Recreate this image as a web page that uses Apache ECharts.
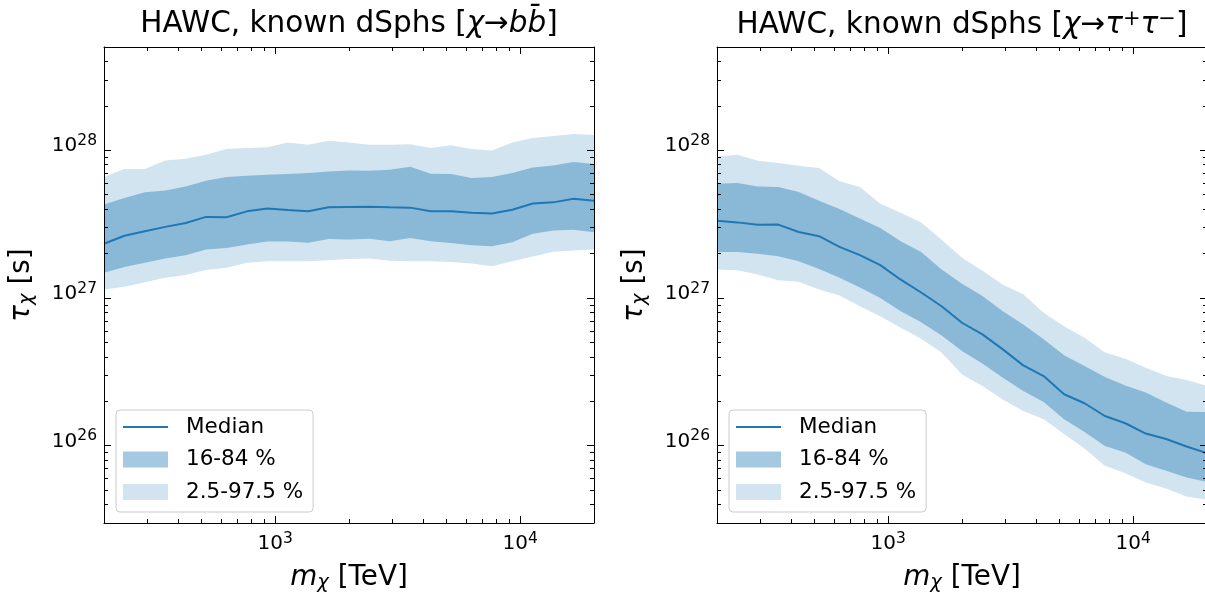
<!DOCTYPE html>
<html>
<head>
<meta charset="utf-8">
<script src="https://cdn.jsdelivr.net/npm/echarts@6.0.0/dist/echarts.min.js"></script>
<style>
html,body{margin:0;padding:0;background:#ffffff;}
#chart{width:1205px;height:593px;}
</style>
</head>
<body>
<div id="chart"></div>
<script>
// ---------------- data ----------------
const masses = [200, 242.3, 293.6, 355.7, 430.9, 522.1, 632.5, 766.3, 928.4, 1124.8, 1362.7, 1651.0, 2000,
  2423.1, 2935.6, 3556.6, 4308.9, 5220.4, 6324.6, 7662.5, 9283.2, 11246.8, 13625.8, 16508.1, 20000];

// chi -> b bbar
const bbMedian = [2.33e27, 2.64e27, 2.83e27, 3.03e27, 3.22e27, 3.54e27, 3.52e27, 3.86e27, 4.04e27, 3.94e27, 3.86e27, 4.11e27, 4.13e27,
  4.15e27, 4.11e27, 4.09e27, 3.86e27, 3.86e27, 3.78e27, 3.73e27, 3.96e27, 4.36e27, 4.44e27, 4.70e27, 4.56e27];
const bbLo68 = [1.48e27, 1.62e27, 1.73e27, 1.85e27, 1.95e27, 2.13e27, 2.18e27, 2.30e27, 2.41e27, 2.41e27, 2.37e27, 2.51e27, 2.49e27,
  2.52e27, 2.42e27, 2.55e27, 2.42e27, 2.36e27, 2.28e27, 2.24e27, 2.38e27, 2.72e27, 2.86e27, 2.90e27, 2.79e27];
const bbHi68 = [4.29e27, 4.75e27, 5.19e27, 5.35e27, 5.69e27, 6.22e27, 6.59e27, 6.73e27, 6.83e27, 6.90e27, 7.01e27, 7.19e27, 7.30e27,
  7.27e27, 7.38e27, 7.74e27, 6.93e27, 6.90e27, 6.49e27, 6.59e27, 7.01e27, 7.65e27, 7.89e27, 8.32e27, 8.07e27];
const bbLo95 = [1.14e27, 1.19e27, 1.28e27, 1.37e27, 1.43e27, 1.55e27, 1.60e27, 1.73e27, 1.77e27, 1.77e27, 1.77e27, 1.80e27, 1.84e27,
  1.85e27, 1.79e27, 1.77e27, 1.77e27, 1.75e27, 1.71e27, 1.64e27, 1.77e27, 1.91e27, 2.06e27, 2.10e27, 2.13e27];
const bbHi95 = [6.59e27, 7.47e27, 7.47e27, 8.53e27, 8.77e27, 9.33e27, 1.02e28, 1.035e28, 1.05e28, 1.13e28, 1.09e28, 1.16e28, 1.13e28,
  1.09e28, 1.09e28, 1.10e28, 1.035e28, 1.08e28, 1.02e28, 9.97e27, 1.13e28, 1.21e28, 1.25e28, 1.29e28, 1.27e28];

// chi -> tau+ tau-
const ttMedian = [3.34e27, 3.25e27, 3.13e27, 3.14e27, 2.80e27, 2.62e27, 2.22e27, 1.95e27, 1.67e27, 1.33e27, 1.09e27, 8.80e26, 6.80e26,
  5.67e26, 4.49e26, 3.50e26, 2.96e26, 2.23e26, 1.94e26, 1.59e26, 1.42e26, 1.21e26, 1.11e26, 9.88e25, 8.90e25];
const ttLo68 = [2.05e27, 2.05e27, 1.99e27, 1.92e27, 1.77e27, 1.57e27, 1.37e27, 1.18e27, 1.00e27, 8.14e26, 6.86e26, 5.58e26, 4.38e26,
  3.61e26, 2.89e26, 2.35e26, 1.98e26, 1.51e26, 1.24e26, 9.97e25, 9.00e25, 7.50e25, 6.76e25, 6.10e25, 5.69e25];
const ttHi68 = [5.94e27, 6.00e27, 5.69e27, 5.64e27, 5.22e27, 4.56e27, 4.01e27, 3.45e27, 2.98e27, 2.42e27, 2.05e27, 1.56e27, 1.25e27,
  1.03e27, 8.14e26, 6.62e26, 5.25e26, 4.09e26, 3.46e26, 2.92e26, 2.56e26, 2.29e26, 1.96e26, 1.70e26, 1.69e26];
const ttLo95 = [1.56e27, 1.54e27, 1.44e27, 1.32e27, 1.29e27, 1.14e27, 1.04e27, 8.80e26, 7.54e26, 6.29e26, 5.30e26, 4.27e26, 3.04e26,
  2.54e26, 2.06e26, 1.72e26, 1.51e26, 1.20e26, 9.57e25, 7.31e25, 6.52e25, 5.64e25, 5.14e25, 4.54e25, 4.31e25];
const ttHi95 = [9.08e27, 9.33e27, 8.50e27, 8.20e27, 7.86e27, 7.58e27, 6.16e27, 5.64e27, 4.35e27, 3.77e27, 3.25e27, 2.48e27, 1.87e27,
  1.53e27, 1.23e27, 1.06e27, 7.95e26, 6.45e26, 5.38e26, 4.27e26, 3.88e26, 3.37e26, 2.96e26, 2.79e26, 2.54e26];

// ticks
const xMajorTicks = [1000, 10000];
const xMinorTicks = [300, 400, 500, 600, 700, 800, 900, 2000, 3000, 4000, 5000, 6000, 7000, 8000, 9000];
const yMajorTicks = [1e26, 1e27, 1e28];
const yMinorTicks = [4e25, 5e25, 6e25, 7e25, 8e25, 9e25, 2e26, 3e26, 4e26, 5e26, 6e26, 7e26, 8e26, 9e26,
  2e27, 3e27, 4e27, 5e27, 6e27, 7e27, 8e27, 9e27, 2e28, 3e28, 4e28];

const seriesNames = ['Median', '16-84 %', '2.5-97.5 %'];
const titles = ['HAWC, known dSphs [{i|χ}→{i|bb\u0304}]', 'HAWC, known dSphs [{i|χ}→{i|τ}{p|+}{i|τ}{p|−}]'];
const xName = '{i|m}{sub|χ} [TeV]';
const yName = '{i|τ}{sub|χ} [s]';

// ---------------- style ----------------
const FONT = 'DejaVu Sans';
const C0 = '#1f77b4';
const BAND68 = 'rgba(31,119,180,0.4)';
const BAND95 = 'rgba(31,119,180,0.2)';
const X_MIN = 200, X_MAX = 20000, Y_MIN = 3e25, Y_MAX = 5e28;
const gridBoxes = [{left: 104, top: 47, width: 490, height: 476}, {left: 717, top: 47, width: 490, height: 476}];

const tickRich = {
  b: {fontFamily: FONT, fontSize: 20, lineHeight: 22, color: '#000', verticalAlign: 'middle'},
  s: {fontFamily: FONT, fontSize: 15.5, lineHeight: 15, color: '#000', padding: [0, 0, 11, 0], verticalAlign: 'middle'}
};
const nameRich = {
  i: {fontFamily: FONT, fontSize: 27.8, fontStyle: 'italic', color: '#000', verticalAlign: 'middle'},
  sub: {fontFamily: FONT, fontSize: 19.5, fontStyle: 'italic', color: '#000', padding: [10, 0, 0, 0], verticalAlign: 'middle'}
};
function powLabel(v) {
  const e = Math.round(Math.log10(v));
  return '{b|10}{s|' + e + '}';
}
const lineBlack = {color: '#000', width: 1};

function makeAxes(kind, g) {
  const isX = kind === 'x';
  const base = {
    type: 'log', logBase: 10, gridIndex: g, z: 10,
    min: isX ? X_MIN : Y_MIN, max: isX ? X_MAX : Y_MAX,
    splitLine: {show: false}, minorTick: {show: false}, minorSplitLine: {show: false},
    axisPointer: {show: false}
  };
  const major = isX ? xMajorTicks : yMajorTicks;
  const minor = isX ? xMinorTicks : yMinorTicks;
  const pos = isX ? ['bottom', 'top'] : ['left', 'right'];
  const out = [];
  pos.forEach((p, k) => {
    const main = Object.assign({}, base, {
      position: p,
      axisLine: {show: true, onZero: false, lineStyle: lineBlack},
      axisTick: {show: true, inside: true, length: 7, customValues: major, lineStyle: lineBlack},
      axisLabel: k === 0 ? {
        show: true, customValues: major, formatter: powLabel, color: '#000',
        margin: isX ? 10 : 7, rich: tickRich, padding: isX ? 0 : [0, 0, 8, 0]
      } : {show: false}
    });
    if (k === 0) {
      Object.assign(main, {
        name: isX ? xName : yName, nameLocation: 'middle', nameGap: isX ? 40 : 67,
        nameTextStyle: {fontFamily: FONT, fontSize: 27.8, color: '#000', rich: nameRich}
      });
    }
    out.push(main);
    out.push(Object.assign({}, base, {
      position: p,
      axisLine: {show: false, onZero: false},
      axisTick: {show: true, inside: true, length: 4, customValues: minor, lineStyle: lineBlack},
      axisLabel: {show: false}
    }));
  });
  return out;
}

function bandSeries(name, g, lo, hi, color) {
  return {
    type: 'custom', name: name, xAxisIndex: g * 4, yAxisIndex: g * 4, z: 2,
    clip: true, silent: true,
    itemStyle: {color: color},
    encode: {x: 0, y: [1, 2]},
    data: masses.map((m, i) => [m, lo[i], hi[i]]),
    renderItem: function (params, api) {
      if (params.dataIndex !== 0) return null;
      const pts = [];
      for (let i = 0; i < masses.length; i++) pts.push(api.coord([masses[i], hi[i]]));
      for (let i = masses.length - 1; i >= 0; i--) pts.push(api.coord([masses[i], lo[i]]));
      return {type: 'polygon', shape: {points: pts}, style: {fill: color, stroke: null}};
    }
  };
}
function medianSeries(g, med) {
  return {
    type: 'line', name: seriesNames[0], xAxisIndex: g * 4, yAxisIndex: g * 4, z: 3,
    data: masses.map((m, i) => [m, med[i]]),
    showSymbol: false, symbol: 'none', silent: true,
    lineStyle: {color: C0, width: 2}, itemStyle: {color: C0}
  };
}

const panels = [
  {med: bbMedian, lo68: bbLo68, hi68: bbHi68, lo95: bbLo95, hi95: bbHi95},
  {med: ttMedian, lo68: ttLo68, hi68: ttHi68, lo95: ttLo95, hi95: ttHi95}
];

const xAxis = [], yAxis = [], series = [], grid = [], title = [], legend = [];
panels.forEach((p, g) => {
  const gb = gridBoxes[g];
  grid.push(Object.assign({containLabel: false, outerBoundsMode: 'none', show: false}, gb));
  xAxis.push(...makeAxes('x', g));
  yAxis.push(...makeAxes('y', g));
  series.push(bandSeries(seriesNames[2], g, p.lo95, p.hi95, BAND95));
  series.push(bandSeries(seriesNames[1], g, p.lo68, p.hi68, BAND68));
  series.push(medianSeries(g, p.med));
  title.push({
    text: titles[g], left: gb.left + gb.width / 2, top: 9, textAlign: 'center', padding: 0,
    textStyle: {
      fontFamily: FONT, fontSize: 29.5, fontWeight: 'normal', color: '#000',
      rich: {
        i: {fontFamily: FONT, fontSize: 29.5, fontStyle: 'italic', color: '#000', verticalAlign: 'middle'},
        p: {fontFamily: FONT, fontSize: 21, color: '#000', padding: [0, 0, 12, 0], verticalAlign: 'middle'}
      }
    }
  });
  legend.push({
    left: gb.left + 12, top: 410, orient: 'vertical', z: 20,
    backgroundColor: 'rgba(255,255,255,0.8)', borderColor: '#cccccc', borderWidth: 1, borderRadius: 4,
    padding: [6, 10, 9, 7], itemGap: 10.5, itemWidth: 45, itemHeight: 16,
    selectedMode: false,
    itemStyle: {borderWidth: 0},
    textStyle: {fontFamily: FONT, fontSize: 21.5, color: '#000', padding: [0, 0, 0, 13]},
    data: [
      {name: seriesNames[0], icon: 'path://M0,0 L45,0 L45,2 L0,2 Z'},
      {name: seriesNames[1], icon: 'rect'},
      {name: seriesNames[2], icon: 'rect'}
    ]
  });
});

const chart = echarts.init(document.getElementById('chart'), null, {renderer: 'canvas'});
chart.setOption({
  animation: false,
  backgroundColor: '#ffffff',
  textStyle: {fontFamily: FONT},
  title: title, legend: legend, grid: grid, xAxis: xAxis, yAxis: yAxis, series: series
});
</script>
</body>
</html>
